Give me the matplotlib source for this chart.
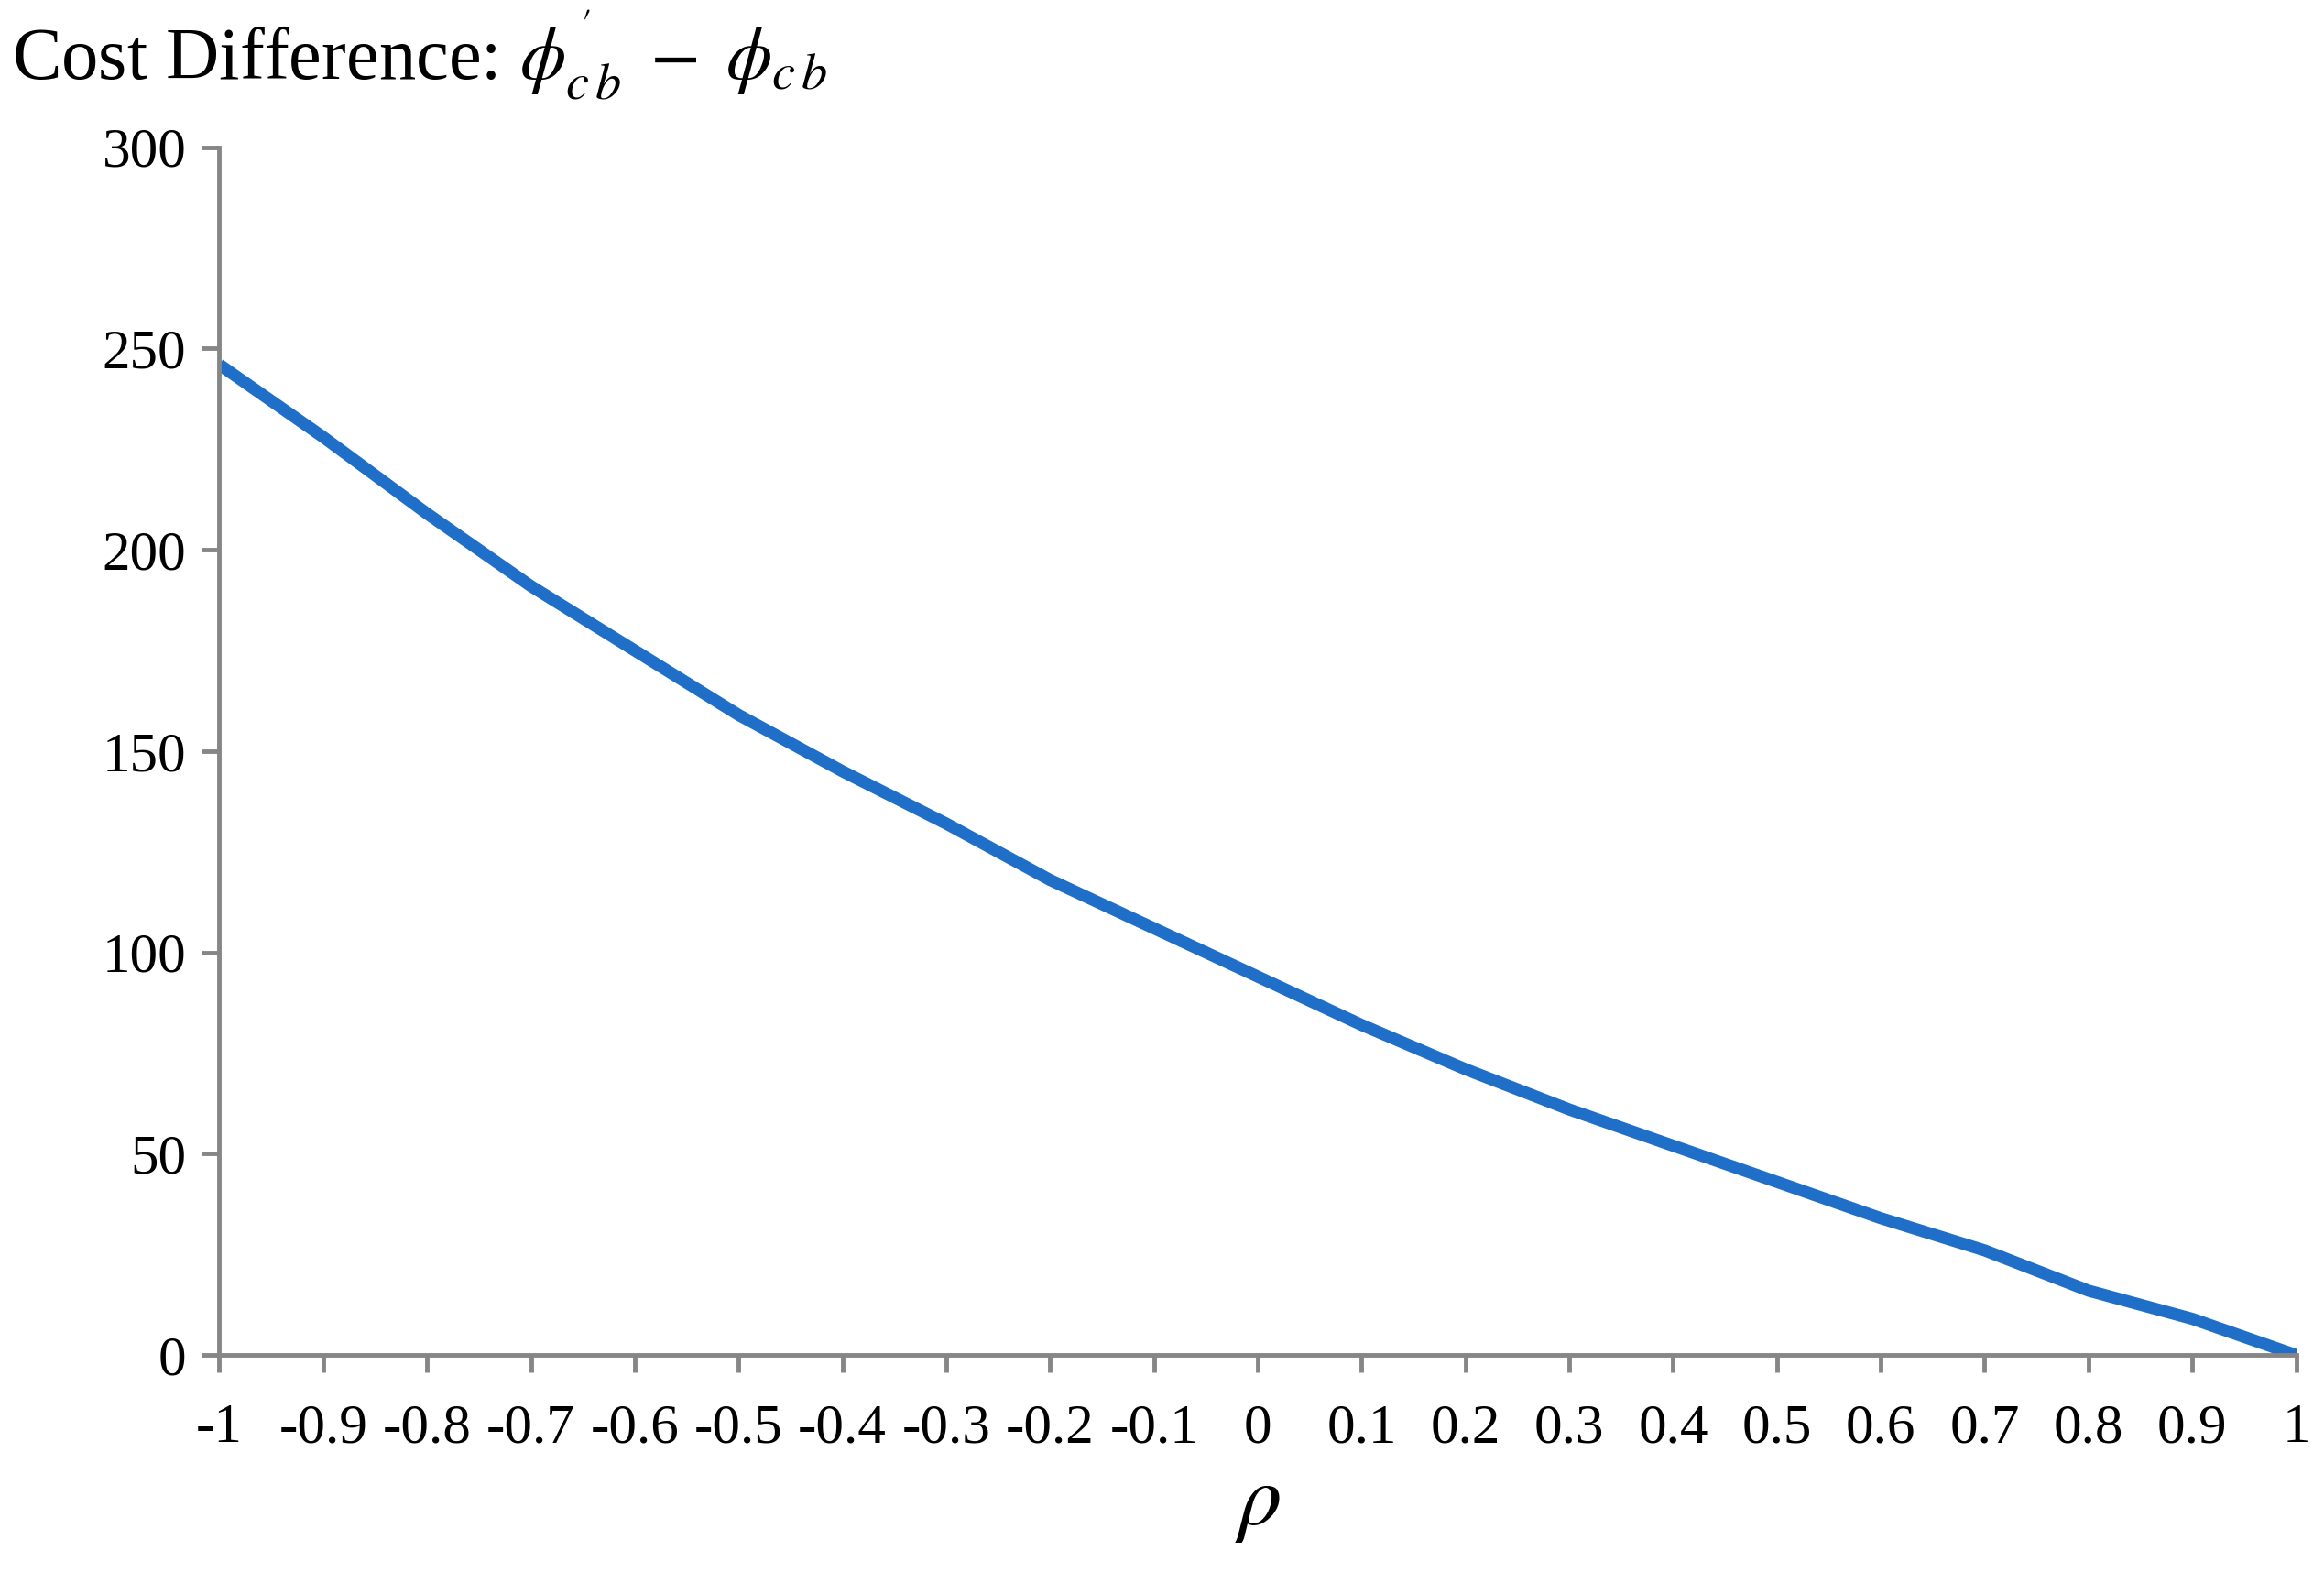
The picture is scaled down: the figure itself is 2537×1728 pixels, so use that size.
import numpy as np
import matplotlib.pyplot as plt

# values
rho = [-1, -0.9, -0.8, -0.7, -0.6, -0.5, -0.4, -0.3, -0.2, -0.1, 0,
       0.1, 0.2, 0.3, 0.4, 0.5, 0.6, 0.7, 0.8, 0.9, 1]
cost_diff = [246, 228, 209, 191, 175, 159, 145, 132, 118, 106, 94,
             82, 71, 61, 52, 43, 34, 26, 16, 9, 0]
tick_labels = ['-1', '-0.9', '-0.8', '-0.7', '-0.6', '-0.5', '-0.4', '-0.3', '-0.2', '-0.1', '0',
               '0.1', '0.2', '0.3', '0.4', '0.5', '0.6', '0.7', '0.8', '0.9', '1']

plt.rcParams['font.family'] = ['Liberation Serif', 'DejaVu Serif']
plt.rcParams['mathtext.fontset'] = 'stix'

fig = plt.figure(figsize=(25.37, 17.28), dpi=100)
ax = fig.add_axes([0.0944, 0.144, 0.8936, 0.763])

ax.plot(rho, cost_diff, color='#1f6fc8', lw=9.5, solid_capstyle='butt')

ax.set_xlim(-1, 1)
ax.set_ylim(0, 300)
ax.set_xticks(rho)
ax.set_xticklabels(tick_labels)
ax.set_yticks(range(0, 301, 50))

grey = '#868686'
for s in ['top', 'right']:
    ax.spines[s].set_visible(False)
for s in ['left', 'bottom']:
    ax.spines[s].set_color(grey)
    ax.spines[s].set_linewidth(3.5)
ax.tick_params(axis='both', colors=grey, width=3.5, length=14, direction='out',
               labelsize=44, labelcolor='black')
ax.tick_params(axis='x', pad=24)
ax.tick_params(axis='y', pad=12)

ax.set_xlabel(r'$\rho$', fontsize=68, labelpad=10)
fig.text(0.005, 0.965, r"Cost Difference: $\phi^{\,'}_{c\,b}\;-\;\phi_{c\,b}$",
         fontsize=58, ha='left', va='center')

fig.savefig('out.png', dpi=100, facecolor='white')
